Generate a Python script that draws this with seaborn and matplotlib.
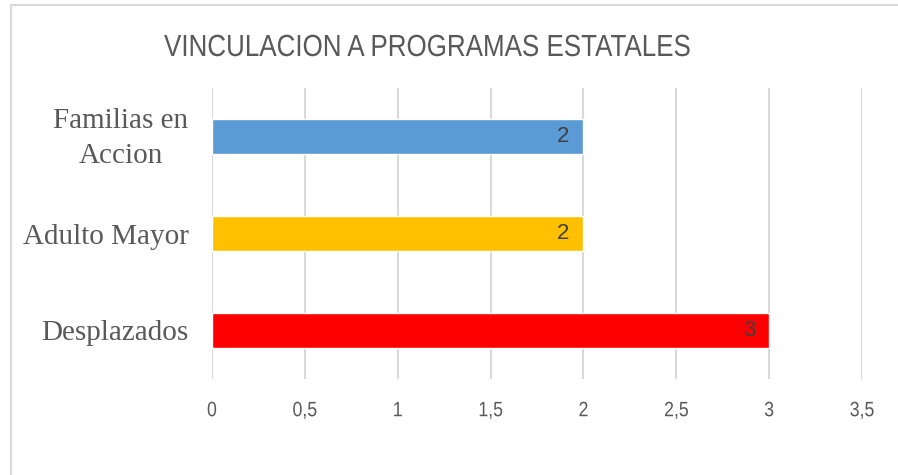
import matplotlib
matplotlib.use("Agg")
import matplotlib.pyplot as plt
import seaborn as sns
import pandas as pd
from matplotlib.patches import Rectangle
from matplotlib.patheffects import AbstractPathEffect
from matplotlib.transforms import Affine2D, ScaledTranslation

categories = ["Familias en\nAccion", "Adulto Mayor", "Desplazados"]
values = [2, 2, 3]
colors = ["#5B9BD5", "#FFC000", "#FF0000"]
xticks = [0, 0.5, 1, 1.5, 2, 2.5, 3, 3.5]
xtick_labels = ["0", "0,5", "1", "1,5", "2", "2,5", "3", "3,5"]
title = "VINCULACION A PROGRAMAS ESTATALES"


class Condense(AbstractPathEffect):
    """Horizontally condense a text path about its own centre."""
    def __init__(self, factor=0.85):
        super().__init__()
        self.factor = factor

    def draw_path(self, renderer, gc, tpath, affine, rgbFace=None):
        ext = tpath.get_extents(affine)
        cx = (ext.x0 + ext.x1) / 2
        squeeze = Affine2D().translate(-cx, 0).scale(self.factor, 1).translate(cx, 0)
        renderer.draw_path(gc, tpath, affine + squeeze, rgbFace)


sns.set_theme(style="white")
sans = ["Liberation Sans", "DejaVu Sans"]
serif = ["Liberation Serif", "DejaVu Serif"]
plt.rcParams["font.family"] = sans

df = pd.DataFrame({"cat": categories, "val": values})

fig = plt.figure(figsize=(8.98, 4.75), dpi=100)
ax = fig.add_axes([212 / 898, 1 - 379 / 475, 650 / 898, 291 / 475])

sns.barplot(data=df, x="val", y="cat", hue="cat", palette=colors,
            order=categories, hue_order=categories, legend=False,
            width=0.36, saturation=1, ax=ax, orient="h")

ax.set_xlim(0, 3.5)
ax.set_ylim(2.5, -0.5)
ax.set_xticks(xticks)
ax.set_xticklabels(xtick_labels, fontsize=15, color="#595959", family=sans)
for t in ax.get_xticklabels():
    t.set_path_effects([Condense(0.85)])
ax.set_yticks(range(len(categories)))
ax.set_yticklabels(categories, fontsize=21, color="#595959", family=serif,
                   linespacing=1.42, multialignment="center")
ax.tick_params(axis="x", length=0, pad=16)
ax.tick_params(axis="y", length=0, pad=17)
first = ax.get_yticklabels()[0]
first.set_transform(first.get_transform() + ScaledTranslation(0, 5 / 100, fig.dpi_scale_trans))
ax.set_xlabel("")
ax.set_ylabel("")
ax.grid(axis="x", color="#d9d9d9", linewidth=1.5)
ax.set_axisbelow(True)
for s in ax.spines.values():
    s.set_visible(False)

for c in ax.containers:
    texts = ax.bar_label(c, labels=[f"{v:g}" for v in c.datavalues], padding=-10,
                         fontsize=16, color="#404040", family=sans)
    for t in texts:
        t.set_ha("right")

fig.text(427 / 898, 1 - 48 / 475, title, ha="center", va="center",
         fontsize=22, color="#595959", family=sans,
         path_effects=[Condense(0.85)])

fig.patches.append(Rectangle((11 / 898, -0.1), 1.2, (1 - 5 / 475) + 0.1,
                             transform=fig.transFigure, fill=False,
                             edgecolor="#d9d9d9", linewidth=1.5))

fig.savefig("out.png", dpi=100)
